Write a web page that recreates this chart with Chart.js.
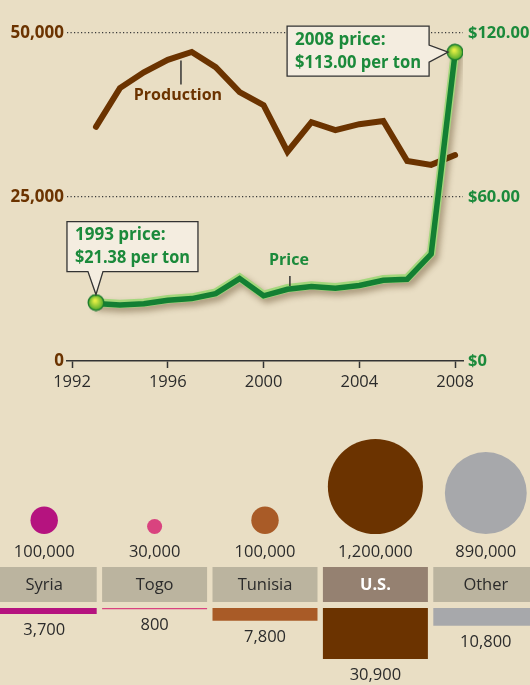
<!DOCTYPE html>
<html>
<head>
<meta charset="utf-8">
<script src="https://cdn.jsdelivr.net/npm/chart.js@4/dist/chart.umd.min.js"></script>
<style>
body{margin:0;background:#e9dec4;overflow:hidden;width:530px;height:685px;position:relative;}
#top{position:absolute;left:0;top:0;}
#bottom{position:absolute;left:-11px;top:430px;}
</style>
</head>
<body>
<canvas id="top" width="530" height="400"></canvas>
<canvas id="bottom" width="552" height="255"></canvas>
<script>
// phosphate rock, 1993-2008
var years=[1993,1994,1995,1996,1997,1998,1999,2000,2001,2002,2003,2004,2005,2006,2007,2008];
var production=[35700,41600,44000,45900,47100,44800,41000,39000,31900,36400,35200,36100,36600,30500,29900,31400];
var price=[21.38,20.9,21.3,22.6,23.2,25.0,30.5,24.2,26.6,27.6,27.0,28.0,29.9,30.3,39.5,113.00];
var yearTicks=[1992,1996,2000,2004,2008];
var prodTicks=[0,25000,50000];
var priceTicks=[0,60,120];

// who produces it
var countries=["Syria","Togo","Tunisia","U.S.","Other"];
var output=[100000,30000,100000,1200000,890000];
var reserves=[3700,800,7800,30900,10800];
var countryColors=["#b5137f","#d9437f","#a95b27","#6b3300","#a7a8ab"];

var BROWN="#6b3300",GREEN="#1b8a3b",INK="#2b2b2b";
Chart.defaults.font.family="'Open Sans', sans-serif";
Chart.defaults.color=INK;

function pts(vals){
	return years.map(function(y,i){return {x:y,y:vals[i]};});
}
function valAt(vals,x){
	for(var i=0;i<years.length-1;i++){
		if(x>=years[i]&&x<=years[i+1]){
			var t=(x-years[i])/(years[i+1]-years[i]);
			return vals[i]+(vals[i+1]-vals[i])*t;
		}
	}
	return vals[vals.length-1];
}

// round marker for the two end points
var dot=document.createElement("canvas");
dot.width=18;dot.height=18;
(function(){
	var c=dot.getContext("2d");
	var g=c.createRadialGradient(8,7,1,9,9,8);
	g.addColorStop(0,"#e4ee44");
	g.addColorStop(1,"#4aa82c");
	c.beginPath();c.arc(9,9,7.8,0,Math.PI*2);
	c.fillStyle=g;c.fill();
	c.lineWidth=1.4;c.strokeStyle="#1c7d2e";c.stroke();
})();

var lineFx={
	id:"lineFx",
	beforeDatasetDraw:function(chart,args){
		var ctx=chart.ctx,fx=chart.data.datasets[args.index].fx;
		if(fx=="halo"){
			ctx.save();
			ctx.shadowColor="rgba(70,45,10,0.4)";
			ctx.shadowBlur=6;ctx.shadowOffsetX=3;ctx.shadowOffsetY=4;
		}
		if(fx=="core"){
			ctx.save();
			ctx.translate(0,1);
		}
	},
	afterDatasetDraw:function(chart,args){
		var fx=chart.data.datasets[args.index].fx;
		if(fx=="halo"||fx=="core")chart.ctx.restore();
	}
};

function callout(ctx,box,tip,base,side,lines){
	ctx.save();
	ctx.beginPath();
	var l=box.x,t=box.y,r=box.x+box.w,b=box.y+box.h;
	ctx.moveTo(l,t);ctx.lineTo(r,t);
	if(side=="right"){
		ctx.lineTo(r,base[0]);ctx.lineTo(tip.x,tip.y);ctx.lineTo(r,base[1]);
		ctx.lineTo(r,b);ctx.lineTo(l,b);
	}else{
		ctx.lineTo(r,b);ctx.lineTo(base[1],b);ctx.lineTo(tip.x,tip.y);ctx.lineTo(base[0],b);
		ctx.lineTo(l,b);
	}
	ctx.closePath();
	ctx.fillStyle="#f4ede0";ctx.fill();
	ctx.lineWidth=1.3;ctx.strokeStyle="#333";ctx.stroke();
	ctx.fillStyle=GREEN;
	ctx.font="bold 17px 'Open Sans'";
	ctx.textBaseline="middle";ctx.textAlign="left";
	ctx.fillText(lines[0],l+8,t+14);
	ctx.fillText(lines[1],l+8,t+37,box.w-16);
	ctx.restore();
}

var notes={
	id:"notes",
	afterDatasetsDraw:function(chart){
		var ctx=chart.ctx,xs=chart.scales.x,ys=chart.scales.y,yp=chart.scales.y2;
		ctx.save();
		ctx.lineWidth=1.5;ctx.strokeStyle="#333";
		// Production label
		var ax=xs.getPixelForValue(1996.55),ay=ys.getPixelForValue(valAt(production,1996.55));
		ctx.beginPath();ctx.moveTo(ax,ay+5);ctx.lineTo(ax,ay+29);ctx.stroke();
		ctx.font="bold 16px 'Open Sans'";ctx.textAlign="center";ctx.textBaseline="middle";
		ctx.fillStyle=BROWN;ctx.fillText("Production",ax-3,ay+40);
		// Price label
		var bx=xs.getPixelForValue(2001.1),by=yp.getPixelForValue(valAt(price,2001.1));
		ctx.beginPath();ctx.moveTo(bx,by-12);ctx.lineTo(bx,by-2);ctx.stroke();
		ctx.fillStyle=GREEN;ctx.fillText("Price",bx-1,by-28);
		ctx.restore();
		// callouts
		var p0={x:xs.getPixelForValue(years[0]),y:yp.getPixelForValue(price[0])};
		callout(ctx,{x:p0.x-29,y:p0.y-81,w:131,h:50},{x:p0.x,y:p0.y-8},[p0.x-8,p0.x+7],"bottom",
			[years[0]+" price:","$"+price[0].toFixed(2)+" per ton"]);
		var n=years.length-1;
		var p1={x:xs.getPixelForValue(years[n]),y:yp.getPixelForValue(price[n])};
		callout(ctx,{x:p1.x-168,y:p1.y-26,w:142,h:50},{x:p1.x-7,y:p1.y},[p1.y-7,p1.y+10],"right",
			[years[n]+" price:","$"+price[n].toFixed(2)+" per ton"]);
	}
};

new Chart("top",{
	type:"line",
	data:{datasets:[
		{label:"Production",data:pts(production),yAxisID:"y",borderColor:BROWN,borderWidth:6,
			borderCapStyle:"round",pointRadius:0,order:4},
		{label:"Price",data:pts(price),yAxisID:"y2",borderColor:"#a3d77c",borderWidth:8.5,
			borderCapStyle:"round",pointRadius:0,order:3,fx:"halo"},
		{label:"Price core",data:pts(price),yAxisID:"y2",borderColor:"#137f33",borderWidth:5.5,
			borderCapStyle:"round",pointRadius:0,order:2,fx:"core"},
		{label:"ends",data:[{x:years[0],y:price[0]},{x:years[years.length-1],y:price[price.length-1]}],
			yAxisID:"y2",showLine:false,pointStyle:dot,pointRadius:8,order:1}
	]},
	options:{
		responsive:false,animation:false,devicePixelRatio:1,
		layout:{padding:{top:33,left:0,right:0,bottom:0}},
		plugins:{legend:{display:false},tooltip:{enabled:false}},
		scales:{
			x:{type:"linear",min:1991.79,max:2008.33,
				afterBuildTicks:function(s){s.ticks=yearTicks.map(function(v){return {value:v};});},
				afterFit:function(s){s.height=39;},
				border:{display:true,color:"#333",width:1.5},
				grid:{drawOnChartArea:false,drawTicks:true,tickLength:7,tickColor:"#333",tickWidth:1.5},
				ticks:{padding:4,color:INK,font:{size:16.5},callback:function(v){return String(v);}}
			},
			y:{position:"left",min:0,max:50000,
				afterBuildTicks:function(s){s.ticks=prodTicks.map(function(v){return {value:v};});},
				afterFit:function(s){s.width=67;},
				border:{display:false,dash:[1.2,2.3]},
				grid:{drawTicks:false,lineWidth:1.3,color:function(c){return c.tick&&c.tick.value===0?"rgba(0,0,0,0)":"#3a3a3a";}},
				ticks:{padding:3,color:BROWN,font:{size:17,weight:"bold"},
					callback:function(v){return v.toLocaleString("en-US");}}
			},
			y2:{position:"right",min:0,max:120,
				afterBuildTicks:function(s){s.ticks=priceTicks.map(function(v){return {value:v};});},
				afterFit:function(s){s.width=67;},
				border:{display:false},
				grid:{display:false,drawTicks:false},
				ticks:{padding:5,color:GREEN,font:{size:16.5,weight:"bold"},
					callback:function(v){return v===0?"$0":"$"+v.toFixed(2);}}
			}
		}
	},
	plugins:[lineFx,notes]
});

// bottom panel: circles = output, header = country, bars = reserves
var BUB_BASE=104,BUB_K=0.0434;
var panel={
	id:"panel",
	afterDatasetsDraw:function(chart){
		var ctx=chart.ctx,meta=chart.getDatasetMeta(0);
		ctx.save();
		meta.data.forEach(function(bar,i){
			var x=bar.x,w=bar.width;
			var r=BUB_K*Math.sqrt(output[i]);
			ctx.beginPath();ctx.arc(x,BUB_BASE-r,r,0,Math.PI*2);
			ctx.fillStyle=countryColors[i];ctx.fill();
			ctx.textAlign="center";ctx.textBaseline="middle";
			ctx.font="16.5px 'Open Sans'";ctx.fillStyle=INK;
			ctx.fillText(output[i].toLocaleString("en-US"),x,122);
			var us=countries[i]=="U.S.";
			ctx.fillStyle=us?"#958171":"#bbb49f";
			ctx.fillRect(x-w/2,137,w,35);
			ctx.fillStyle=us?"#fff":INK;
			ctx.font=(us?"bold ":"")+"16.5px 'Open Sans'";
			ctx.fillText(countries[i],x,155.5);
			ctx.fillStyle=INK;ctx.font="16.5px 'Open Sans'";
			ctx.fillText(reserves[i].toLocaleString("en-US"),x,Math.max(bar.y,bar.base)+16);
		});
		ctx.restore();
	}
};

new Chart("bottom",{
	type:"bar",
	data:{labels:countries,datasets:[{data:reserves,backgroundColor:countryColors,
		barPercentage:1,categoryPercentage:0.951}]},
	options:{
		responsive:false,animation:false,devicePixelRatio:1,
		layout:{padding:{top:178,bottom:26,left:0,right:0}},
		plugins:{legend:{display:false},tooltip:{enabled:false}},
		scales:{
			x:{display:false},
			y:{display:false,reverse:true,min:0,max:Math.max.apply(null,reserves)}
		}
	},
	plugins:[panel]
});
</script>
</body>
</html>
